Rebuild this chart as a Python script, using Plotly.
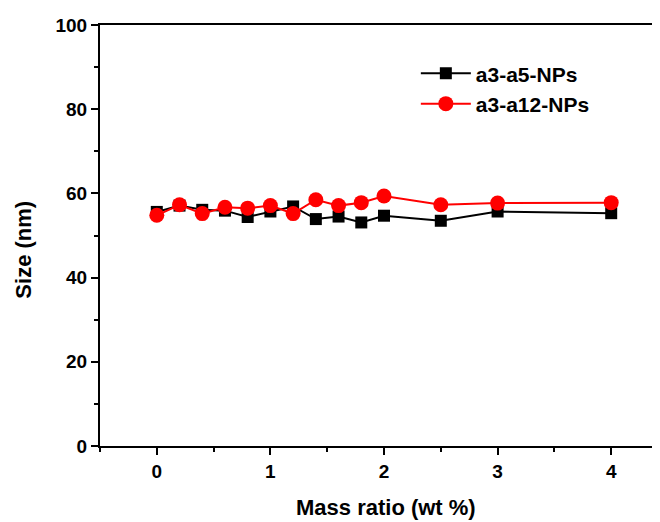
import plotly.graph_objects as go

mass_ratio = [0, 0.2, 0.4, 0.6, 0.8, 1.0, 1.2, 1.4, 1.6, 1.8, 2.0, 2.5, 3, 4]
size_a5 = [55.6, 57.1, 56.1, 55.9, 54.4, 55.7, 56.9, 53.9, 54.5, 53.1, 54.7, 53.5, 55.7, 55.3]
size_a12 = [54.8, 57.3, 55.2, 56.7, 56.5, 57.1, 55.2, 58.5, 57.1, 57.8, 59.4, 57.3, 57.7, 57.8]
x_ticks = [0, 1, 2, 3, 4]
y_ticks = [0, 20, 40, 60, 80, 100]

FONT = "Liberation Sans, Arial, sans-serif"

fig = go.Figure()
fig.add_trace(go.Scatter(
    x=mass_ratio, y=size_a5, mode="lines+markers", name="a3-a5-NPs",
    line=dict(color="black", width=2),
    marker=dict(symbol="square", size=12, color="black"),
))
fig.add_trace(go.Scatter(
    x=mass_ratio, y=size_a12, mode="lines+markers", name="a3-a12-NPs",
    line=dict(color="#ff0000", width=2),
    marker=dict(symbol="circle", size=15, color="#ff0000"),
))

fig.update_layout(
    width=652, height=514,
    margin=dict(l=92, r=0, t=17, b=76, autoexpand=False),
    paper_bgcolor="white", plot_bgcolor="white",
    font=dict(family=FONT, color="black"),
    legend=dict(
        x=0.564, y=0.933, xanchor="left", yanchor="top",
        bgcolor="rgba(0,0,0,0)", borderwidth=0,
        font=dict(family=FONT, size=21, color="black", weight="bold"),
        itemwidth=50, tracegroupgap=0,
    ),
    annotations=[
        dict(text="<b>Mass ratio (wt %)</b>", xref="paper", yref="paper",
             x=0.511, y=-0.146, xanchor="center", yanchor="middle",
             showarrow=False, font=dict(family=FONT, size=22, color="black")),
        dict(text="<b>Size (nm)</b>", xref="paper", yref="paper",
             x=-0.136, y=0.466, xanchor="center", yanchor="middle", textangle=-90,
             showarrow=False, font=dict(family=FONT, size=22, color="black")),
    ],
)

fig.update_xaxes(
    range=[-0.5, -0.5 + 560 / 113.6],
    tickvals=x_ticks, ticktext=[str(v) for v in x_ticks],
    ticks="outside", ticklen=7, tickwidth=2, tickcolor="black",
    minor=dict(dtick=0.5, tick0=0, ticks="outside", ticklen=4, tickwidth=2, tickcolor="black"),
    showline=True, linewidth=2, linecolor="black", mirror=True,
    showgrid=False, zeroline=False,
    tickfont=dict(family=FONT, size=19, color="black", weight="bold"),
)
fig.update_yaxes(
    range=[0, 100],
    tickvals=y_ticks, ticktext=[str(v) for v in y_ticks],
    ticks="outside", ticklen=7, tickwidth=2, tickcolor="black",
    minor=dict(dtick=10, tick0=0, ticks="outside", ticklen=4, tickwidth=2, tickcolor="black"),
    showline=True, linewidth=2, linecolor="black", mirror=False,
    showgrid=False, zeroline=False,
    tickfont=dict(family=FONT, size=19, color="black", weight="bold"),
)

fig.write_html("out.html")
